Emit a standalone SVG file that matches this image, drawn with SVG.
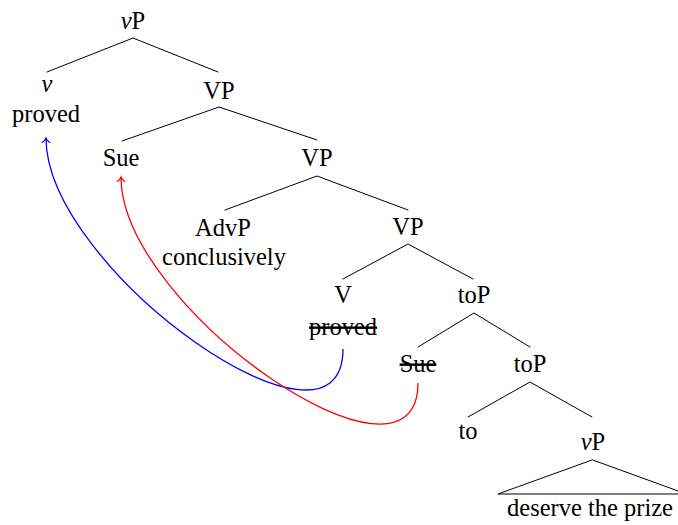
<svg xmlns="http://www.w3.org/2000/svg" width="678" height="525" viewBox="0 0 678 525">
<style>
text{font-family:"Liberation Serif","Times New Roman",serif;font-size:24.5px;fill:#000;text-anchor:middle}
.e{stroke:#000;stroke-width:1;fill:none;stroke-linecap:round}
.it{font-style:italic}
.s{text-decoration:line-through}
.mv{fill:none;stroke-width:1.3}
</style>
<defs>
<marker id="ab" markerUnits="userSpaceOnUse" viewBox="-6 -5 7 10" refX="0" refY="0" markerWidth="7" markerHeight="10" orient="auto" overflow="visible">
<path d="M-4.5,-3.8 C-3.2,-1.6 -1.2,-0.4 0,0 C-1.2,0.4 -3.2,1.6 -4.5,3.8" fill="none" stroke="#0000ff" stroke-width="1.1" stroke-linecap="round"/>
</marker>
<marker id="ar" markerUnits="userSpaceOnUse" viewBox="-6 -5 7 10" refX="0" refY="0" markerWidth="7" markerHeight="10" orient="auto" overflow="visible">
<path d="M-4.5,-3.8 C-3.2,-1.6 -1.2,-0.4 0,0 C-1.2,0.4 -3.2,1.6 -4.5,3.8" fill="none" stroke="#ff0000" stroke-width="1.1" stroke-linecap="round"/>
</marker>
</defs>
<g id="connectors">
<path class="e" d="M47,72 L133,38 L218,72"/>
<path class="e" d="M122,141 L219,107 L317,140"/>
<path class="e" d="M225,210 L317,176 L408,210"/>
<path class="e" d="M343,279 L408,244 L473,279"/>
<path class="e" d="M418,347 L474,313 L530,347"/>
<path class="e" d="M468,417 L530,382 L592,417"/>
<path class="mv" stroke="#0000ff" d="M343,349 C343,479 46,270 46,138" marker-end="url(#ab)"/>
<path class="mv" stroke="#ff0000" d="M418,383 C418,512 121,308 121,177" marker-end="url(#ar)"/>
</g>
<g id="n-vP-top"><text x="133" y="29"><tspan class="it">v</tspan>P</text></g>
<g id="n-v"><text x="47" y="92" class="it">v</text><text x="46" y="122">proved</text></g>
<g id="n-VP1"><text x="219" y="99">VP</text></g>
<g id="n-Sue1"><text x="121" y="166">Sue</text></g>
<g id="n-VP2"><text x="317" y="166">VP</text></g>
<g id="n-AdvP"><text x="223" y="236">AdvP</text><text x="224" y="265">conclusively</text></g>
<g id="n-VP3"><text x="408" y="235">VP</text></g>
<g id="n-V"><text x="343" y="303">V</text><text x="343" y="335" class="s">proved</text></g>
<g id="n-toP1"><text x="474" y="303">toP</text></g>
<g id="n-Sue2"><text x="418" y="372" class="s">Sue</text></g>
<g id="n-toP2"><text x="530" y="372">toP</text></g>
<g id="n-to"><text x="468" y="439">to</text></g>
<g id="n-vP-bottom"><text x="593" y="450"><tspan class="it">v</tspan>P</text>
<path class="e" d="M592,460 L498,494 L686,494 Z"/>
<text x="590" y="516">deserve the prize</text></g>
</svg>
